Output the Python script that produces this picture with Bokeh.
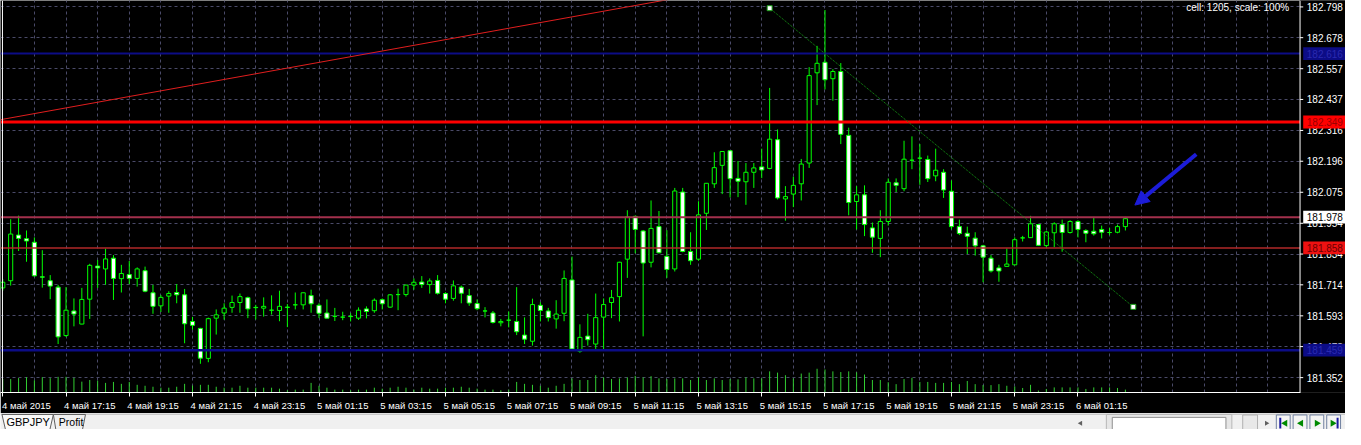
from bokeh.plotting import figure
from bokeh.models import (Range1d, FixedTicker, Span, Label,
                          Arrow, NormalHead, ColumnDataSource)
from bokeh.layouts import column
from bokeh.embed import file_html
from bokeh.resources import INLINE
from bokeh.core.properties import value

# ---------------- data (GBPJPY, M15) ----------------
opens = [181.702, 181.730, 181.908, 181.894, 181.880, 181.745, 181.730, 181.705, 181.516, 181.612,
         181.561, 181.658, 181.787, 181.776, 181.818, 181.738, 181.754, 181.739, 181.769, 181.683,
         181.632, 181.670, 181.684, 181.675, 181.571, 181.544, 181.427, 181.584, 181.604, 181.626,
         181.645, 181.664, 181.626, 181.623, 181.615, 181.614, 181.627, 181.636, 181.636, 181.672,
         181.634, 181.604, 181.591, 181.588, 181.591, 181.584, 181.620, 181.613, 181.656, 181.627,
         181.676, 181.676, 181.713, 181.725, 181.715, 181.731, 181.680, 181.661, 181.705, 181.672,
         181.641, 181.612, 181.604, 181.566, 181.576, 181.571, 181.518, 181.494, 181.634, 181.612,
         181.581, 181.603, 181.733, 181.455, 181.514, 181.483, 181.588, 181.645, 181.668, 181.814,
         181.981, 181.924, 181.802, 181.941, 181.825, 181.776, 182.076, 181.844, 181.814, 181.993,
         182.108, 182.180, 182.237, 182.129, 182.116, 182.153, 182.174, 182.168, 182.280, 182.049,
         182.068, 182.108, 182.189, 182.541, 182.582, 182.518, 182.546, 182.297, 182.039, 182.065,
         181.936, 181.895, 181.961, 182.112, 182.089, 182.200, 182.208, 182.203, 182.139, 182.153,
         182.079, 181.941, 181.915, 181.896, 181.866, 181.818, 181.780, 181.786, 181.792, 181.897,
         181.898, 181.949, 181.867, 181.917, 181.949, 181.918, 181.961, 181.926, 181.923, 181.930,
         181.918, 181.919, 181.941]
highs = [181.736, 181.970, 181.984, 181.926, 181.899, 181.849, 181.752, 181.714, 181.705, 181.661,
         181.702, 181.796, 181.811, 181.855, 181.830, 181.792, 181.807, 181.782, 181.785, 181.714,
         181.674, 181.689, 181.717, 181.698, 181.589, 181.546, 181.586, 181.618, 181.642, 181.672,
         181.680, 181.668, 181.636, 181.665, 181.673, 181.691, 181.639, 181.684, 181.684, 181.695,
         181.642, 181.657, 181.624, 181.609, 181.603, 181.626, 181.630, 181.661, 181.661, 181.678,
         181.699, 181.714, 181.739, 181.748, 181.739, 181.752, 181.685, 181.731, 181.711, 181.698,
         181.657, 181.627, 181.612, 181.581, 181.610, 181.705, 181.587, 181.660, 181.646, 181.624,
         181.654, 181.770, 181.824, 181.560, 181.601, 181.680, 181.661, 181.694, 181.804, 182.005,
         181.984, 181.928, 182.043, 182.002, 181.927, 182.092, 182.092, 181.919, 182.040, 182.111,
         182.231, 182.234, 182.238, 182.197, 182.189, 182.189, 182.245, 182.482, 182.320, 182.099,
         182.136, 182.205, 182.563, 182.646, 182.786, 182.555, 182.579, 182.327, 182.099, 182.102,
         181.957, 182.005, 182.129, 182.129, 182.276, 182.293, 182.263, 182.218, 182.245, 182.165,
         182.121, 181.968, 181.941, 181.919, 181.870, 181.830, 181.792, 181.856, 181.899, 181.905,
         181.983, 181.951, 181.924, 181.958, 181.968, 181.966, 181.966, 181.931, 181.979, 181.945,
         181.936, 181.949, 181.979]
lows = [181.691, 181.711, 181.846, 181.804, 181.747, 181.703, 181.658, 181.483, 181.511, 181.552,
        181.560, 181.581, 181.702, 181.714, 181.655, 181.684, 181.717, 181.707, 181.685, 181.601,
        181.608, 181.605, 181.642, 181.486, 181.539, 181.406, 181.412, 181.520, 181.578, 181.605,
        181.605, 181.584, 181.579, 181.590, 181.598, 181.572, 181.549, 181.618, 181.618, 181.605,
        181.584, 181.583, 181.573, 181.576, 181.571, 181.577, 181.583, 181.605, 181.618, 181.624,
        181.615, 181.668, 181.695, 181.702, 181.680, 181.676, 181.642, 181.652, 181.642, 181.632,
        181.615, 181.587, 181.563, 181.552, 181.548, 181.518, 181.483, 181.477, 181.571, 181.571,
        181.543, 181.572, 181.459, 181.449, 181.477, 181.464, 181.464, 181.584, 181.571, 181.741,
        181.837, 181.513, 181.782, 181.837, 181.741, 181.766, 181.841, 181.792, 181.808, 181.928,
        182.092, 182.068, 182.055, 182.056, 182.026, 182.092, 182.130, 182.165, 182.047, 181.964,
        182.017, 182.043, 182.170, 182.415, 182.476, 182.432, 182.263, 181.985, 181.930, 181.904,
        181.839, 181.822, 181.945, 182.076, 182.079, 182.165, 182.104, 182.115, 182.118, 182.053,
        181.930, 181.908, 181.834, 181.828, 181.724, 181.762, 181.726, 181.786, 181.791, 181.883,
        181.897, 181.866, 181.860, 181.861, 181.843, 181.914, 181.899, 181.880, 181.906, 181.895,
        181.908, 181.915, 181.926]
closes = [181.724, 181.912, 181.895, 181.885, 181.749, 181.744, 181.709, 181.511, 181.615, 181.600,
          181.657, 181.790, 181.780, 181.815, 181.739, 181.758, 181.739, 181.776, 181.689, 181.630,
          181.665, 181.680, 181.675, 181.562, 181.556, 181.428, 181.582, 181.597, 181.623, 181.645,
          181.668, 181.620, 181.625, 181.630, 181.615, 181.630, 181.626, 181.636, 181.683, 181.640,
          181.603, 181.584, 181.591, 181.588, 181.590, 181.615, 181.610, 181.654, 181.640, 181.675,
          181.676, 181.713, 181.724, 181.715, 181.729, 181.681, 181.658, 181.710, 181.681, 181.643,
          181.621, 181.612, 181.567, 181.571, 181.576, 181.531, 181.502, 181.637, 181.614, 181.586,
          181.600, 181.739, 181.464, 181.509, 181.500, 181.586, 181.637, 181.664, 181.802, 181.979,
          181.930, 181.799, 181.934, 181.839, 181.774, 182.080, 181.844, 181.808, 181.987, 182.110,
          182.171, 182.234, 182.128, 182.118, 182.153, 182.170, 182.162, 182.282, 182.053, 182.058,
          182.102, 182.185, 182.530, 182.578, 182.514, 182.546, 182.301, 182.035, 182.065, 181.949,
          181.900, 181.961, 182.114, 182.102, 182.204, 182.200, 182.208, 182.128, 182.161, 182.084,
          181.941, 181.914, 181.903, 181.866, 181.822, 181.768, 181.768, 181.795, 181.890, 181.897,
          181.952, 181.868, 181.920, 181.952, 181.918, 181.961, 181.930, 181.915, 181.913, 181.919,
          181.918, 181.941, 181.972]
volumes = [700, 700, 750, 800, 635, 800, 750, 815, 815, 765,
           565, 650, 615, 500, 550, 450, 550, 400, 350, 300,
           250, 250, 300, 450, 365, 400, 400, 300, 250, 250,
           350, 250, 250, 250, 250, 200, 115, 150, 150, 500,
           350, 250, 150, 150, 115, 150, 150, 250, 200, 250,
           300, 250, 150, 250, 200, 200, 250, 250, 300, 250,
           200, 150, 150, 115, 150, 550, 450, 400, 350, 250,
           350, 450, 735, 650, 650, 900, 785, 700, 735, 785,
           865, 785, 850, 735, 700, 735, 735, 650, 785, 650,
           735, 650, 700, 685, 785, 735, 735, 1100, 1035, 900,
           735, 985, 1035, 1235, 1200, 1100, 1065, 1100, 1050, 935,
           650, 650, 535, 435, 700, 765, 550, 550, 500, 500,
           550, 435, 600, 435, 385, 385, 435, 350, 315, 235,
           400, 100, 185, 265, 265, 265, 265, 185, 265, 265,
           265, 235, 150]

price_ticks = [182.798, 182.678, 182.557, 182.437, 182.316, 182.196, 182.075,
               181.954, 181.834, 181.714, 181.593, 181.473, 181.352]
time_label_bars = [0, 8, 16, 24, 32, 40, 48, 56, 64, 72, 80, 88, 96, 104, 112, 120, 128, 136]
time_labels = ["4 май 2015", "4 май 17:15", "4 май 19:15", "4 май 21:15", "4 май 23:15",
               "5 май 01:15", "5 май 03:15", "5 май 05:15", "5 май 07:15", "5 май 09:15",
               "5 май 11:15", "5 май 13:15", "5 май 15:15", "5 май 17:15", "5 май 19:15",
               "5 май 21:15", "5 май 23:15", "6 май 01:15"]

level_prices = [182.616, 182.349, 181.978, 181.858, 181.459]
level_labels = ["182.616", "182.349", "181.978", "181.858", "181.459"]

red_trend_bar = [-0.3, 90.0]
red_trend_price = [182.358, 182.859]
green_trend_bar = [97.0, 143.0]
green_trend_price = [182.793, 181.628]
arrow_bar = [150.96, 143.2]
arrow_price = [182.223, 182.025]

# ---------------- styling ----------------
FONT = "Liberation Sans"
GRID = "#4a4a68"
GREEN = "#00ff00"
X0, X_AXIS, X_END = -0.2875, 164.09, 169.84      # left edge, price-scale line, right edge
Y0, Y1 = 181.294, 182.823

n = len(opens)
bars = list(range(n))
src = ColumnDataSource(dict(
    k=bars, o=opens, h=highs, l=lows, c=closes, v=volumes,
    top=[max(a, b) for a, b in zip(opens, closes)],
    bot=[min(a, b) for a, b in zip(opens, closes)],
    fill=["black" if c >= o else "white" for o, c in zip(opens, closes)],
))

p = figure(width=1345, height=413, x_range=Range1d(X0, X_END),
           y_range=Range1d(Y0, Y1), y_axis_location=None,
           output_backend="svg", toolbar_location=None,
           background_fill_color="black", border_fill_color="black",
           outline_line_color=None, min_border_left=0, min_border_top=0,
           min_border_right=0, min_border_bottom=20)
p.extra_y_ranges = {"vol": Range1d(0, 20400)}

# grid
p.xgrid.ticker = FixedTicker(ticks=list(range(4, 164, 4)))
p.ygrid.ticker = FixedTicker(ticks=price_ticks)
for g in (p.xgrid, p.ygrid):
    g.grid_line_color = GRID
    g.grid_line_dash = "3 3"
    g.grid_line_width = 1

# time axis
xa = p.xaxis[0]
centers = [b + 3 for b in time_label_bars]
xa.ticker = FixedTicker(ticks=centers, minor_ticks=time_label_bars)
xa.major_label_overrides = {c: t for c, t in zip(centers, time_labels)}
xa.bounds = (X0, X_AXIS)
xa.axis_line_color = "white"
xa.major_tick_line_color = None
xa.major_tick_out = 0
xa.major_tick_in = 0
xa.minor_tick_line_color = "white"
xa.minor_tick_out = 4
xa.minor_tick_in = 0
xa.major_label_text_color = "white"
xa.major_label_text_font = FONT
xa.major_label_text_font_size = "9.5px"
xa.major_label_standoff = 3

# left border line
p.add_layout(Span(location=-0.04, dimension="height", line_color="white", line_width=1))

# volumes
p.segment(x0="k", y0=0, x1="k", y1="v", source=src, y_range_name="vol",
          line_color="#32cd32", line_width=1)

# candles
p.segment(x0="k", y0="l", x1="k", y1="h", source=src, line_color=GREEN, line_width=1)
p.vbar(x="k", width=0.52, top="top", bottom="bot", source=src,
       fill_color="fill", line_color=GREEN, line_width=1)

# horizontal levels (bounded to the chart area)
level_colors = ["#0c0c86", "#ff0000", "#a3304c", "#b02828", "#0c0c86"]
level_widths = [2, 3, 2, 1.5, 2.5]
p.segment(x0=[X0] * 5, x1=[X_AXIS] * 5, y0=level_prices, y1=level_prices,
          line_color=level_colors, line_width=level_widths)

# trend lines
p.line(red_trend_bar, red_trend_price, line_color="#e01e1e", line_width=1)
p.line(green_trend_bar, green_trend_price, line_color="#149a14", line_width=1, line_dash="1 1")
p.scatter(green_trend_bar, green_trend_price, marker="square", size=5,
          fill_color="white", line_color="#149a14")

# arrow
p.add_layout(Arrow(end=NormalHead(size=14, fill_color="#1c1cd8", line_color="#1c1cd8"),
                   x_start=arrow_bar[0], y_start=arrow_price[0],
                   x_end=arrow_bar[1], y_end=arrow_price[1],
                   line_color="#1c1cd8", line_width=4))

# info text
p.add_layout(Label(x=149.7, y=182.797, text="cell: 1205, scale: 100%", text_color="white",
                   text_font=FONT, text_font_size="10px", text_baseline="middle",
                   text_align="left"))

# ---------------- price scale (drawn inside the canvas) ----------------
p.quad(left=[X_AXIS], right=[X_END + 2], bottom=[Y0 - 0.1], top=[Y1 + 0.1],
       fill_color="black", line_color=None)
p.segment(x0=[X_AXIS] * len(price_ticks), x1=[X_AXIS + 0.4] * len(price_ticks),
          y0=price_ticks, y1=price_ticks, line_color="white", line_width=1)
p.text(x=[X_AXIS + 0.85] * len(price_ticks), y=price_ticks,
       text=["%.3f" % t for t in price_ticks], text_color="white",
       text_font=value(FONT), text_font_size="10px", text_baseline="middle", text_align="left")
lab_bg = ["#0c0c86", "#ff0000", "white", "#ee1111", "#0c0c86"]
lab_fg = ["#2a2ab0", "#9a0000", "black", "#6a0000", "#2a2ab0"]
p.quad(left=[X_AXIS + 0.4] * 5, right=[X_END + 2] * 5,
       bottom=[v - 0.025 for v in level_prices], top=[v + 0.025 for v in level_prices],
       fill_color=lab_bg, line_color=None)
p.text(x=[X_AXIS + 0.85] * 5, y=level_prices, text=level_labels, text_color=lab_fg,
       text_font=value(FONT), text_font_size="10px", text_baseline="middle", text_align="left")
p.add_layout(Span(location=X_AXIS, dimension="height", line_color="white", line_width=1))

# ---------------- tab bar ----------------
tb = figure(width=1345, height=16, x_range=Range1d(0, 1361), y_range=Range1d(445, 428.5),
            output_backend="svg", toolbar_location=None, min_border=0,
            background_fill_color="#f0f0f0", border_fill_color="#f0f0f0",
            outline_line_color=None)
tb.axis.visible = False
tb.grid.visible = False
tb.segment(x0=[0], y0=[429], x1=[1361], y1=[429], line_color="#a0a0a0", line_width=1)
tb.patch([1.5, 5, 50, 53.5], [429.5, 445, 445, 429.5], fill_color="#fafafa", line_color="#606060")
tb.patch([53.5, 56, 83, 86], [429.5, 445, 445, 429.5], fill_color="#f0f0f0", line_color="#606060")
tb.text(x=[6], y=[437.5], text=["GBPJPY"], text_font=value(FONT), text_font_size="11px",
        text_baseline="middle", text_color="black")
tb.text(x=[59], y=[437.5], text=["Profit"], text_font=value(FONT), text_font_size="10.5px",
        text_baseline="middle", text_color="black")
tb.scatter([1093], [438.5], marker="triangle", angle=1.5708, size=5, fill_color="#606060", line_color=None)
tb.quad(left=[1119], right=[1246], top=[429.5], bottom=[446], fill_color="#e6e6e6", line_color="#b8b8b8")
tb.quad(left=[1125], right=[1240], top=[432.5], bottom=[446], fill_color="white", line_color="#909090")
tb.quad(left=[1257], right=[1272], top=[430], bottom=[446], fill_color="#e8e8e8", line_color="#b0b0b0")
tb.scatter([1281], [438.5], marker="triangle", angle=-1.5708, size=5, fill_color="#606060", line_color=None)
bx = [1291, 1308, 1325, 1342]
tb.quad(left=bx, right=[b + 14 for b in bx], top=[430] * 4, bottom=[446] * 4,
        fill_color="#f4f4f4", line_color="#7080a0")
tb.scatter([1300, 1316], [438.5, 438.5], marker="triangle", angle=1.5708, size=7,
           fill_color="#008a00", line_color=None)
tb.scatter([1332, 1348], [438.5, 438.5], marker="triangle", angle=-1.5708, size=7,
           fill_color="#008a00", line_color=None)
tb.segment(x0=[1295, 1353], y0=[433, 433], x1=[1295, 1353], y1=[444, 444],
           line_color="#1a1aa0", line_width=2)

layout = column(p, tb, spacing=0)
open("out.html", "w").write(file_html(layout, INLINE))
